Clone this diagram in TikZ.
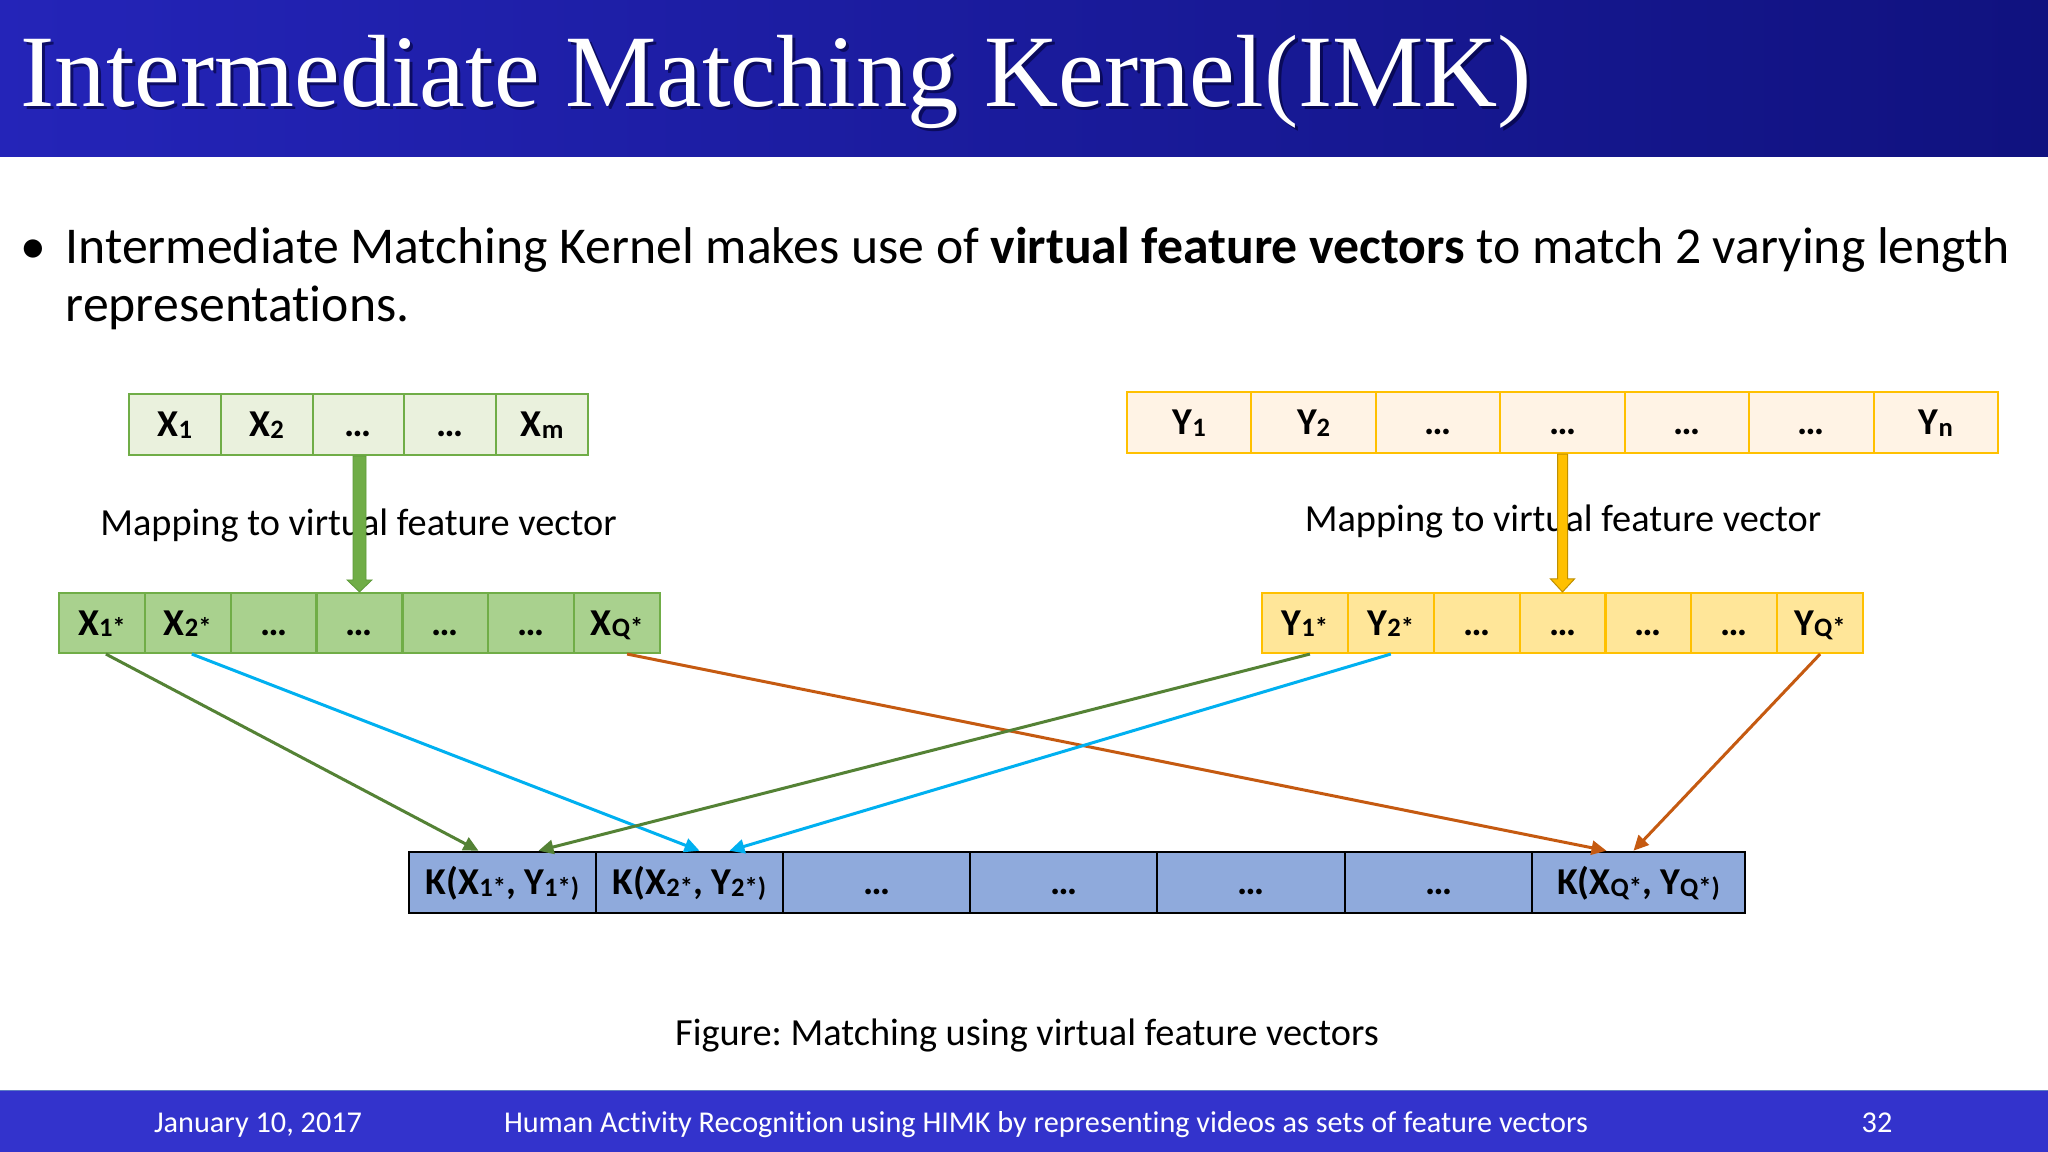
\documentclass[tikz,border=0pt]{standalone}
\usepackage{fontspec}
\usepackage{graphicx}
\setmainfont{Carlito}[Ligatures={NoCommon}]
\newfontfamily\titlefont{Liberation Serif}
\usetikzlibrary{arrows.meta,calc}
\definecolor{gbord}{HTML}{70AD47}
\definecolor{gtop}{HTML}{EAF1DD}
\definecolor{gbot}{HTML}{A9D18E}
\definecolor{ybord}{HTML}{FFC000}
\definecolor{ytop}{HTML}{FFF3E5}
\definecolor{ybot}{HTML}{FFE699}
\definecolor{kfill}{HTML}{8FAADC}
\definecolor{cgreen}{HTML}{548235}
\definecolor{ccyan}{HTML}{00B0F0}
\definecolor{corange}{HTML}{C55A11}
\definecolor{titleL}{HTML}{2424B8}
\definecolor{titleR}{HTML}{10127F}
\definecolor{footblue}{HTML}{3333CC}
\definecolor{footedge}{HTML}{5B7BC4}
\definecolor{yedge}{HTML}{BF9000}
\definecolor{gedge}{HTML}{5E9A3A}
\newcommand{\mysub}[1]{\raisebox{-0.05em}{\scalebox{0.7}{#1}}}
\newcommand{\cellfont}{\fontsize{10.8pt}{12pt}\selectfont\bfseries}
\frenchspacing
\begin{document}
\begin{tikzpicture}[x=0.01cm,y=-0.01cm,
  cellbase/.style={line width=0.021cm, inner sep=0pt, text height=0.24cm, text depth=0cm, font=\cellfont},
  xtop/.style={cellbase, draw=gbord, fill=gtop, minimum width=0.918cm, minimum height=0.61cm},
  xbot/.style={cellbase, draw=gbord, fill=gbot, minimum width=0.8586cm, minimum height=0.60cm},
  ytopc/.style={cellbase, draw=ybord, fill=ytop, minimum width=1.2443cm, minimum height=0.61cm},
  ybotc/.style={cellbase, draw=ybord, fill=ybot, minimum width=0.8586cm, minimum height=0.60cm},
  kcell/.style={cellbase, draw=black, line width=0.025cm, fill=kfill, minimum height=0.61cm},
  conn/.style={line width=0.03cm, -{Triangle[length=0.15cm,width=0.14cm]}},
  maplabel/.style={anchor=base, font=\fontsize{10.9pt}{13pt}\selectfont, inner sep=0pt},
  foottext/.style={anchor=base, text=white, font=\fontsize{8.6pt}{10pt}\selectfont, inner sep=0pt},
  bodytext/.style={anchor=base west, inner sep=0pt, font=\fontsize{14.7pt}{17pt}\selectfont}
]
\useasboundingbox (0,0) rectangle (2048,1152);
\fill[white] (0,0) rectangle (2048,1152);

% title bar
\shade[left color=titleL, right color=titleR] (0,0) rectangle (2048,157);
\node[anchor=base west, inner sep=0pt, text=black!80!blue, opacity=0.6, font=\titlefont\fontsize{29.2pt}{31pt}\selectfont] (titleshadow) at (23,110) {Intermediate Matching Kernel(IMK)};
\node[anchor=base west, inner sep=0pt, text=white, font=\titlefont\fontsize{29.2pt}{31pt}\selectfont] (title) at (20,107) {Intermediate Matching Kernel(IMK)};

% bullet text
\node[anchor=base, inner sep=0pt, font=\fontsize{14.7pt}{17pt}\selectfont] (bullet) at (33,264) {•};
\node[bodytext] (line1) at (65,264) {Intermediate Matching Kernel makes use of \textbf{virtual feature vectors} to match 2 varying length};
\node[bodytext] (line2) at (65,322) {representations.};

% X top row
\node[xtop] (xt1) at (174.9,424.5) {X\mysub{1}};
\node[xtop] (xt2) at (266.7,424.5) {X\mysub{2}};
\node[xtop] (xt3) at (358.5,424.5) {…};
\node[xtop] (xt4) at (450.3,424.5) {…};
\node[xtop] (xt5) at (542.1,424.5) {X\mysub{m}};

% X bottom row
\node[xbot] (xb1) at (101.9,623) {X\mysub{1*}};
\node[xbot] (xb2) at (187.8,623) {X\mysub{2*}};
\node[xbot] (xb3) at (273.6,623) {…};
\node[xbot] (xb4) at (359.5,623) {…};
\node[xbot] (xb5) at (445.4,623) {…};
\node[xbot] (xb6) at (531.2,623) {…};
\node[xbot] (xb7) at (617.1,623) {X\mysub{Q*}};

% Y top row
\node[ytopc] (yt1) at (1189.2,422.5) {Y\mysub{1}};
\node[ytopc] (yt2) at (1313.6,422.5) {Y\mysub{2}};
\node[ytopc] (yt3) at (1438.1,422.5) {…};
\node[ytopc] (yt4) at (1562.5,422.5) {…};
\node[ytopc] (yt5) at (1686.9,422.5) {…};
\node[ytopc] (yt6) at (1811.4,422.5) {…};
\node[ytopc] (yt7) at (1935.8,422.5) {Y\mysub{n}};

% Y bottom row
\node[ybotc] (yb1) at (1304.9,623) {Y\mysub{1*}};
\node[ybotc] (yb2) at (1390.8,623) {Y\mysub{2*}};
\node[ybotc] (yb3) at (1476.6,623) {…};
\node[ybotc] (yb4) at (1562.5,623) {…};
\node[ybotc] (yb5) at (1648.4,623) {…};
\node[ybotc] (yb6) at (1734.2,623) {…};
\node[ybotc] (yb7) at (1820.1,623) {Y\mysub{Q*}};

% K row
\node[kcell, minimum width=1.87cm] (k1) at (502.5,882.5) {K(X\mysub{1*}, Y\mysub{1*)}};
\node[kcell, minimum width=1.87cm] (k2) at (689.5,882.5) {K(X\mysub{2*}, Y\mysub{2*)}};
\node[kcell, minimum width=1.87cm] (k3) at (876.5,882.5) {…};
\node[kcell, minimum width=1.87cm] (k4) at (1063.5,882.5) {…};
\node[kcell, minimum width=1.88cm] (k5) at (1251,882.5) {…};
\node[kcell, minimum width=1.87cm] (k6) at (1438.5,882.5) {…};
\node[kcell, minimum width=2.13cm] (k7) at (1638.5,882.5) {K(X\mysub{Q*}, Y\mysub{Q*)}};

% mapping labels
\node[maplabel] (mapx) at (358.5,535) {Mapping to virtual feature vector};
\node[maplabel] (mapy) at (1563,532) {Mapping to virtual feature vector};

% big mapping arrows
\filldraw[fill=gbord, draw=gedge, line width=0.008cm]
  ($(xb4.north |- xt3.south)+(-6.5,0)$) -- ($(xb4.north)+(-6.5,-12)$) -- ($(xb4.north)+(-12.5,-12)$) -- (xb4.north)
  -- ($(xb4.north)+(12.5,-12)$) -- ($(xb4.north)+(6.5,-12)$) -- ($(xb4.north |- xt3.south)+(6.5,0)$) -- cycle;
\filldraw[fill=ybord, draw=yedge, line width=0.01cm]
  ($(yt4.south)+(-5,0)$) -- ($(yb4.north)+(-5,-13)$) -- ($(yb4.north)+(-12,-13)$) -- (yb4.north)
  -- ($(yb4.north)+(12,-13)$) -- ($(yb4.north)+(5,-13)$) -- ($(yt4.south)+(5,0)$) -- cycle;

% connectors
\draw[conn, cgreen] ($(xb1.south)+(4,0)$) -- ($(k1.north)+(-24,0)$);
\draw[conn, ccyan] ($(xb2.south)+(4,0)$) -- ($(k2.north)+(10,0)$);
\draw[conn, corange] ($(xb7.south)+(10,0)$) -- ($(k7.north)+(-32,0)$);
\draw[conn, cgreen] ($(yb1.south)+(5,0)$) -- ($(k1.north)+(36,0)$);
\draw[conn, ccyan] (yb2.south) -- ($(k2.north)+(40,0)$);
\draw[conn, corange] (yb7.south) -- ($(k7.north)+(-5,0)$);

% caption
\node[maplabel] (caption) at (1027,1045) {Figure: Matching using virtual feature vectors};

% footer
\filldraw[fill=footblue, draw=footedge, line width=0.01cm] (-1,1090) rectangle (2049,1153);
\node[foottext] (fdate) at (258,1132) {January 10, 2017};
\node[foottext] (ftitle) at (1046,1132) {Human Activity Recognition using HIMK by representing videos as sets of feature vectors};
\node[foottext] (fpage) at (1877,1132) {32};
\end{tikzpicture}
\end{document}
